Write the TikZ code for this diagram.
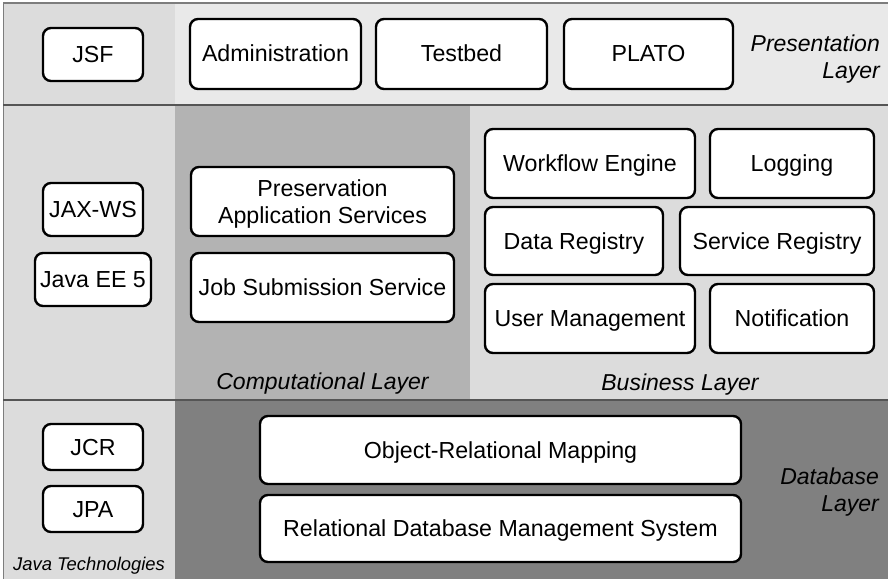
\documentclass[tikz,border=0pt]{standalone}
\usepackage{fontspec}
\setmainfont{Liberation Sans}
\usetikzlibrary{positioning}

\definecolor{colonne}{RGB}{220,220,220}
\definecolor{presentation}{RGB}{233,233,233}
\definecolor{calcul}{RGB}{179,179,179}
\definecolor{metier}{RGB}{220,220,220}
\definecolor{donnees}{RGB}{128,128,128}
\definecolor{cadre}{RGB}{125,125,125}
\definecolor{separation}{RGB}{85,85,85}

\begin{document}
\begin{tikzpicture}[x=1pt,y=-1pt,
    boite/.style={draw=black, line width=2.4pt, fill=white, rounded corners=8pt,
        align=center, inner sep=0pt, text height=16pt, text depth=0pt,
        font=\fontsize{23.2}{27}\selectfont},
    couche/.style={font=\itshape\fontsize{23}{27}\selectfont, inner sep=0pt}]

    % Dimensions de la figure
    \useasboundingbox (0,0) rectangle (888,578);
    \clip (0,0) rectangle (888,578);

    % Les fonds des couches
    \fill[colonne] (3,3) rectangle (175,580);
    \fill[presentation] (175,3) rectangle (890,105);
    \fill[calcul] (175,105) rectangle (470,400);
    \fill[metier] (470,105) rectangle (890,400);
    \fill[donnees] (175,400) rectangle (890,580);

    % Cadre et lignes de separation entre les couches
    \draw[cadre, line width=1.2pt] (3,3) -- (890,3);
    \draw[cadre, line width=1.2pt] (3.5,3) -- (3.5,580);
    \draw[separation, line width=1.2pt] (3,105) -- (890,105);
    \draw[separation, line width=1.2pt] (3,400) -- (890,400);

    % Couche de presentation
    \node[boite, minimum width=100, minimum height=53] (JSF) at (93,54.5) {JSF};
    \node[boite, minimum width=171, minimum height=70] (Admin) at (275.5,54) {Administration};
    \node[boite, minimum width=171, minimum height=70] (Testbed) at (461.5,54) {Testbed};
    \node[boite, minimum width=169, minimum height=70] (PLATO) at (648.5,54) {PLATO};
    \node[couche, align=right, anchor=east] (LPres) at (880,59) {Presentation\\Layer};

    % Technologies Java de la couche du milieu
    \node[boite, minimum width=100, minimum height=53] (JAXWS) at (93,209.5) {JAX-WS};
    \node[boite, minimum width=116, minimum height=53] (JavaEE) at (93,279.5) {Java EE 5};

    % Couche de calcul
    \node[boite, minimum width=263, minimum height=69, text height=43pt] (PAS) at (322.5,201.5) {Preservation\\Application Services};
    \node[boite, minimum width=263, minimum height=69] (JSS) at (322.5,287.5) {Job Submission Service};
    \node[couche, anchor=base] (LCalc) at (322.5,389) {Computational Layer};

    % Couche metier
    \node[boite, minimum width=210, minimum height=69] (WE) at (590,163.5) {Workflow Engine};
    \node[boite, minimum width=164, minimum height=69] (Log) at (792,163.5) {Logging};
    \node[boite, minimum width=178, minimum height=68] (DR) at (574,241) {Data Registry};
    \node[boite, minimum width=194, minimum height=68] (SR) at (777,241) {Service Registry};
    \node[boite, minimum width=210, minimum height=69] (UM) at (590,318.5) {User Management};
    \node[boite, minimum width=164, minimum height=69] (Notif) at (792,318.5) {Notification};
    \node[couche, anchor=base] (LMetier) at (680,390) {Business Layer};

    % Technologies Java de la couche de donnees
    \node[boite, minimum width=100, minimum height=46] (JCR) at (93,447) {JCR};
    \node[boite, minimum width=100, minimum height=46] (JPA) at (93,509) {JPA};
    \node[couche, anchor=base, font=\itshape\fontsize{18.4}{21}\selectfont] (LJava) at (89,570) {Java Technologies};

    % Couche de donnees
    \node[boite, minimum width=481, minimum height=68] (ORM) at (500.5,450) {Object-Relational Mapping};
    \node[boite, minimum width=481, minimum height=67] (RDBMS) at (500.5,528.5) {Relational Database Management System};
    \node[couche, align=right, anchor=east] (LDonnees) at (879,492) {Database\\Layer};

\end{tikzpicture}
\end{document}
